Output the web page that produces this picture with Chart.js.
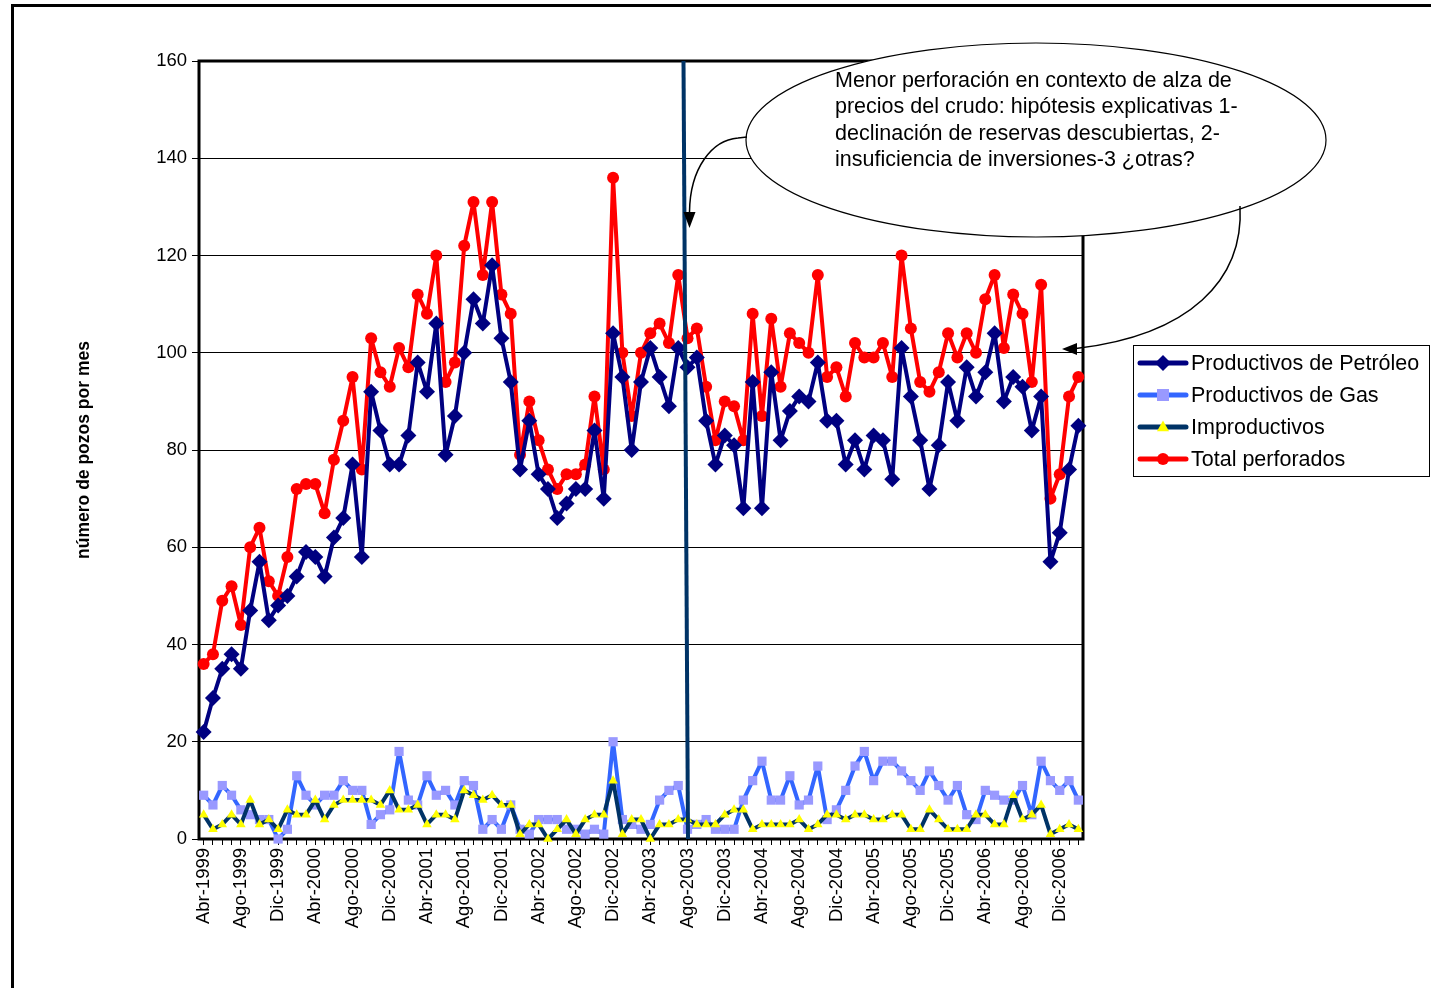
<!DOCTYPE html>
<html>
<head>
<meta charset="utf-8">
<script src="https://cdn.jsdelivr.net/npm/chart.js@4.4.1/dist/chart.umd.min.js"></script>
<style>
  html, body { margin: 0; padding: 0; background: #fff; }
  #wrap { width: 1431px; height: 988px; position: relative; }
</style>
</head>
<body>
<div id="wrap"><canvas id="pozosChart" width="1431" height="988"></canvas></div>
<script>
// Meses (Abr-1999 .. Feb-2007)
const meses = [
    'Abr-1999','May-1999','Jun-1999','Jul-1999','Ago-1999','Sep-1999','Oct-1999','Nov-1999','Dic-1999',
    'Ene-2000','Feb-2000','Mar-2000','Abr-2000','May-2000','Jun-2000','Jul-2000','Ago-2000','Sep-2000','Oct-2000','Nov-2000','Dic-2000',
    'Ene-2001','Feb-2001','Mar-2001','Abr-2001','May-2001','Jun-2001','Jul-2001','Ago-2001','Sep-2001','Oct-2001','Nov-2001','Dic-2001',
    'Ene-2002','Feb-2002','Mar-2002','Abr-2002','May-2002','Jun-2002','Jul-2002','Ago-2002','Sep-2002','Oct-2002','Nov-2002','Dic-2002',
    'Ene-2003','Feb-2003','Mar-2003','Abr-2003','May-2003','Jun-2003','Jul-2003','Ago-2003','Sep-2003','Oct-2003','Nov-2003','Dic-2003',
    'Ene-2004','Feb-2004','Mar-2004','Abr-2004','May-2004','Jun-2004','Jul-2004','Ago-2004','Sep-2004','Oct-2004','Nov-2004','Dic-2004',
    'Ene-2005','Feb-2005','Mar-2005','Abr-2005','May-2005','Jun-2005','Jul-2005','Ago-2005','Sep-2005','Oct-2005','Nov-2005','Dic-2005',
    'Ene-2006','Feb-2006','Mar-2006','Abr-2006','May-2006','Jun-2006','Jul-2006','Ago-2006','Sep-2006','Oct-2006','Nov-2006','Dic-2006',
    'Ene-2007','Feb-2007'
];

const petroleo = [22,29,35,38,35,47,57,45,48,50, 54,59,58,54,62,66,77,58,92,84,
    77,77,83,98,92,106,79,87,100,111, 106,118,103,94,76,86,75,72,66,69,
    72,72,84,70,104,95,80,94,101,95, 89,101,97,99,86,77,83,81,68,94,
    68,96,82,88,91,90,98,86,86,77, 82,76,83,82,74,101,91,82,72,81,
    94,86,97,91,96,104,90,95,93,84, 91,57,63,76,85];

const gas = [9,7,11,9,6,5,4,4,0,2, 13,9,7,9,9,12,10,10,3,5,
    6,18,8,7,13,9,10,7,12,11, 2,4,2,7,2,1,4,4,4,2,
    2,1,2,1,20,4,3,2,3,8, 10,11,2,3,4,2,2,2,8,12,
    16,8,8,13,7,8,15,4,6,10, 15,18,12,16,16,14,12,10,14,11,
    8,11,5,4,10,9,8,8,11,5, 16,12,10,12,8];

const improductivos = [5,2,3,5,3,8,3,4,2,6, 5,5,8,4,7,8,8,8,8,7,
    10,6,6,7,3,5,5,4,10,9, 8,9,7,7,1,3,3,0,2,4,
    1,4,5,5,12,1,4,4,0,3, 3,4,4,3,3,3,5,6,6,2,
    3,3,3,3,4,2,3,5,5,4, 5,5,4,4,5,5,2,2,6,4,
    2,2,2,5,5,3,3,9,4,5, 7,1,2,3,2];

const total = [36,38,49,52,44,60,64,53,50,58, 72,73,73,67,78,86,95,76,103,96,
    93,101,97,112,108,120,94,98,122,131, 116,131,112,108,79,90,82,76,72,75,
    75,77,91,76,136,100,87,100,104,106, 102,116,103,105,93,82,90,89,82,108,
    87,107,93,104,102,100,116,95,97,91, 102,99,99,102,95,120,105,94,92,96,
    104,99,104,100,111,116,101,112,108,94, 114,70,75,91,95];

const yTicks = [0, 20, 40, 60, 80, 100, 120, 140, 160];

const notaLineas = [
    'Menor perforación en contexto de alza de',
    'precios del crudo: hipótesis explicativas 1-',
    'declinación de reservas descubiertas, 2-',
    'insuficiencia de inversiones-3 ¿otras?'
];

const FONT = '"Liberation Sans", Arial, sans-serif';

// marcador simple para la leyenda
function drawMarker(ctx, style, x, y, r, fill) {
    ctx.save();
    ctx.fillStyle = fill;
    ctx.beginPath();
    if (style === 'rectRot') {
        ctx.moveTo(x, y - r); ctx.lineTo(x + r, y); ctx.lineTo(x, y + r); ctx.lineTo(x - r, y);
    } else if (style === 'rect') {
        ctx.rect(x - r, y - r, 2 * r, 2 * r);
    } else if (style === 'triangle') {
        ctx.moveTo(x, y - r * 1.1); ctx.lineTo(x + r, y + r * 0.7); ctx.lineTo(x - r, y + r * 0.7);
    } else {
        ctx.arc(x, y, r, 0, Math.PI * 2);
    }
    ctx.closePath();
    ctx.fill();
    ctx.restore();
}

const decorPlugin = {
    id: 'decor',
    beforeDatasetsDraw(chart) {
        const ctx = chart.ctx;
        const a = chart.chartArea;
        ctx.save();
        // marco exterior
        ctx.strokeStyle = '#000';
        ctx.lineWidth = 3;
        ctx.beginPath();
        ctx.moveTo(12.5, 988);
        ctx.lineTo(12.5, 5.5);
        ctx.lineTo(1431, 5.5);
        ctx.stroke();
        // marco del área de trazado
        ctx.lineWidth = 3;
        ctx.strokeRect(a.left, a.top, a.right - a.left, a.bottom - a.top);
        ctx.restore();
    },
    afterDatasetsDraw(chart) {
        const ctx = chart.ctx;
        const a = chart.chartArea;
        ctx.save();

        // línea vertical
        ctx.strokeStyle = '#003366';
        ctx.lineWidth = 4;
        ctx.beginPath();
        ctx.moveTo(683.5, a.top);
        ctx.lineTo(688, a.bottom);
        ctx.stroke();

        // elipse
        ctx.beginPath();
        ctx.ellipse(1036, 140, 290, 97, 0, 0, Math.PI * 2);
        ctx.fillStyle = '#fff';
        ctx.fill();
        ctx.lineWidth = 1.2;
        ctx.strokeStyle = '#000';
        ctx.stroke();

        ctx.fillStyle = '#000';
        ctx.font = '21.5px ' + FONT;
        ctx.textBaseline = 'middle';
        ctx.textAlign = 'left';
        notaLineas.forEach((t, i) => ctx.fillText(t, 835, 81 + i * 26.3));

        // flechas
        ctx.lineWidth = 1.5;
        ctx.beginPath();
        ctx.moveTo(747, 137);
        ctx.lineTo(738, 138);
        ctx.bezierCurveTo(712, 140, 690, 168, 689.5, 212);
        ctx.stroke();
        ctx.beginPath();
        ctx.moveTo(689.5, 228); ctx.lineTo(683.5, 212); ctx.lineTo(695.5, 212);
        ctx.closePath(); ctx.fill();

        ctx.beginPath();
        ctx.moveTo(1240, 206);
        ctx.bezierCurveTo(1244, 280, 1190, 335, 1076, 348.5);
        ctx.stroke();
        ctx.beginPath();
        ctx.moveTo(1062, 349); ctx.lineTo(1077, 343); ctx.lineTo(1077, 355);
        ctx.closePath(); ctx.fill();

        // leyenda
        const lx = 1133, ly = 345, lw = 296, lh = 131;
        ctx.fillStyle = '#fff';
        ctx.fillRect(lx, ly, lw, lh);
        ctx.lineWidth = 1;
        ctx.strokeStyle = '#000';
        ctx.strokeRect(lx + 0.5, ly + 0.5, lw, lh);
        chart.data.datasets.forEach((ds, i) => {
            const y = 363 + i * 32;
            ctx.strokeStyle = ds.borderColor;
            ctx.lineWidth = 5;
            ctx.lineCap = 'round';
            ctx.beginPath();
            ctx.moveTo(1140, y);
            ctx.lineTo(1186, y);
            ctx.stroke();
            drawMarker(ctx, ds.pointStyle, 1163, y, ds.legendR, ds.pointBackgroundColor);
            ctx.fillStyle = '#000';
            ctx.font = '21.5px ' + FONT;
            ctx.textBaseline = 'middle';
            ctx.fillText(ds.label, 1191, y + 1);
        });
        ctx.restore();
    }
};

const ctx = document.getElementById('pozosChart').getContext('2d');
new Chart(ctx, {
    type: 'line',
    data: {
        labels: meses,
        datasets: [
            {
                label: 'Productivos de Petróleo',
                data: petroleo,
                borderColor: '#000080',
                backgroundColor: '#000080',
                pointBackgroundColor: '#000080',
                pointBorderColor: '#000080',
                pointBorderWidth: 0,
                pointStyle: 'rectRot',
                pointRadius: 8,
                borderWidth: 4,
                legendR: 8,
                order: 3
            },
            {
                label: 'Productivos de Gas',
                data: gas,
                borderColor: '#3366FF',
                backgroundColor: '#9999FF',
                pointBackgroundColor: '#9999FF',
                pointBorderColor: '#9999FF',
                pointBorderWidth: 0,
                pointStyle: 'rect',
                pointRadius: 6.5,
                borderWidth: 4,
                legendR: 6,
                order: 2
            },
            {
                label: 'Improductivos',
                data: improductivos,
                borderColor: '#003366',
                backgroundColor: '#FFFF00',
                pointBackgroundColor: '#FFFF00',
                pointBorderColor: '#FFFF00',
                pointBorderWidth: 0,
                pointStyle: 'triangle',
                pointRadius: 5.5,
                borderWidth: 4,
                legendR: 6,
                order: 1
            },
            {
                label: 'Total perforados',
                data: total,
                borderColor: '#FF0000',
                backgroundColor: '#FF0000',
                pointBackgroundColor: '#FF0000',
                pointBorderColor: '#FF0000',
                pointBorderWidth: 0,
                pointStyle: 'circle',
                pointRadius: 6,
                borderWidth: 4,
                legendR: 6,
                order: 4
            }
        ]
    },
    options: {
        responsive: false,
        animation: false,
        maintainAspectRatio: false,
        clip: false,
        elements: {
            line: { tension: 0, borderJoinStyle: 'round', borderCapStyle: 'round' },
            point: { hoverRadius: 6 }
        },
        layout: { padding: { top: 61, right: 348, bottom: 0, left: 0 } },
        scales: {
            x: {
                offset: true,
                afterFit: (scale) => { scale.height = 149; },
                grid: {
                    display: true,
                    drawOnChartArea: false,
                    drawTicks: true,
                    tickLength: 6,
                    color: '#000',
                    lineWidth: 1
                },
                border: { display: false },
                ticks: {
                    autoSkip: false,
                    minRotation: 90,
                    maxRotation: 90,
                    padding: 3,
                    color: '#000',
                    font: { family: FONT, size: 18.5 },
                    callback: (v, i) => (i % 4 === 0 ? meses[i] : '')
                }
            },
            y: {
                min: 0,
                max: 160,
                afterFit: (scale) => { scale.width = 199; },
                afterBuildTicks: (scale) => { scale.ticks = yTicks.map(v => ({ value: v })); },
                grid: {
                    color: '#000',
                    lineWidth: 1,
                    tickLength: 7
                },
                border: { display: false },
                ticks: {
                    padding: 5,
                    color: '#000',
                    font: { family: FONT, size: 18.5 }
                },
                title: {
                    display: true,
                    text: 'número de pozos por mes',
                    color: '#000',
                    font: { family: FONT, size: 17.5, weight: 'bold' },
                    padding: { top: 74, bottom: 0 }
                }
            }
        },
        plugins: {
            legend: { display: false },
            tooltip: { enabled: false }
        }
    },
    plugins: [decorPlugin]
});
</script>
</body>
</html>
